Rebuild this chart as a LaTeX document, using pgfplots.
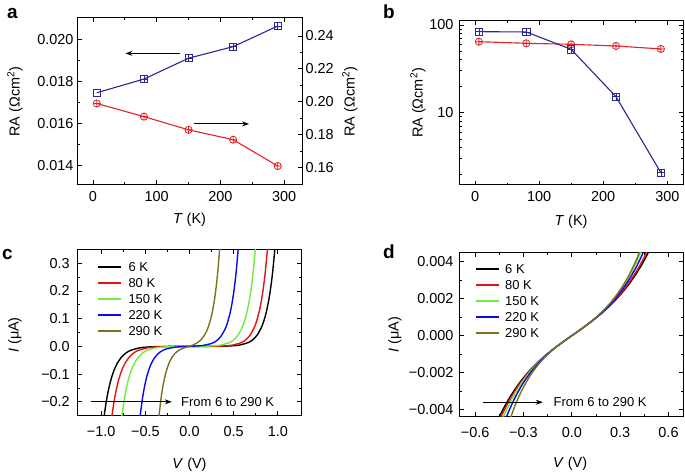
\documentclass[border=0pt]{standalone}
\usepackage{fontspec}
\setmainfont{Liberation Sans}
\usepackage{pgfplots}
\pgfplotsset{compat=1.18}
\usetikzlibrary{arrows.meta}

\definecolor{cblue}{RGB}{40,40,150}
\definecolor{cred}{RGB}{225,35,40}
\definecolor{lred}{RGB}{228,20,20}
\definecolor{lgreen}{RGB}{115,235,60}
\definecolor{lblue}{RGB}{10,10,235}
\definecolor{lolive}{RGB}{125,115,30}

\newcommand{\tickfont}{\fontsize{14.5}{16}\selectfont}
\newcommand{\legfont}{\fontsize{13}{15}\selectfont}

\pgfplotsset{
  common/.style={
    scale only axis,
    /pgf/number format/assume math mode=true,
    tick label style={font=\tickfont},
    axis line style={line width=1bp},
    major tick length=4.5bp,
    minor tick length=2.5bp,
    tick style={black, line width=0.8bp},
    tick align=inside,
  },
  curve/.style={line width=1.4bp, smooth, forget plot},
  ivlegend/.style={
    legend style={draw=none, fill=none, font=\legfont, at={#1}, anchor=north west,
      inner sep=0pt, row sep=7bp, column sep=7bp, nodes={inner sep=0pt, text height=9bp, text depth=0bp}},
    legend cell align=left,
    legend image code/.code={\draw[##1] (0bp,0bp) -- (23bp,0bp);},
  },
}

\begin{document}
\begin{tikzpicture}
\path[use as bounding box] (0bp,0bp) rectangle (685bp,473bp);

% ---------------- panel a ----------------
\begin{axis}[common, at={(77bp,288bp)}, anchor=south west, width=225bp, height=167bp,
  xmin=-25, xmax=328, ymin=0.01308, ymax=0.02101,
  xtick={0,100,200,300}, minor x tick num=1,
  ytick={0.014,0.016,0.018,0.020}, minor y tick num=1, ytick pos=left,
  scaled y ticks=false,
  yticklabel style={/pgf/number format/fixed, /pgf/number format/fixed zerofill, /pgf/number format/precision=3},
  xticklabel style={yshift=-2.5bp},
  every axis x label/.style={at={(axis description cs:0.5,-0.21)}, anchor=center, font=\tickfont},
  every axis y label/.style={at={(axis description cs:-0.276,0.5)}, rotate=90, anchor=center, font=\tickfont},
  xlabel={\textit{T} (K)}, ylabel={RA (Ωcm\textsuperscript{2})}]
\addplot[cblue, line width=1.1bp, mark=square, mark size=3.6bp, mark options={solid, line width=0.8bp}]
  coordinates {(6,0.01746) (80,0.01811) (150,0.01910) (220,0.01965) (290,0.02063)};
\addplot[cblue, only marks, mark=+, mark size=3.6bp, mark options={line width=0.6bp}]
  coordinates {(80,0.01811) (150,0.01910) (220,0.01965) (290,0.02063)};
\draw[-{Stealth[length=7bp,width=5bp]}, line width=1bp] (axis cs:137,0.01933) -- (axis cs:51,0.01933);
\draw[-{Stealth[length=7bp,width=5bp]}, line width=1bp] (axis cs:158,0.01598) -- (axis cs:245,0.01598);
\end{axis}
\begin{axis}[common, at={(77bp,288bp)}, anchor=south west, width=225bp, height=167bp,
  xmin=-25, xmax=328, ymin=0.1495, ymax=0.2509,
  hide x axis, axis y line*=right,
  ytick={0.16,0.18,0.20,0.22,0.24}, minor y tick num=1,
  yticklabel style={/pgf/number format/fixed, /pgf/number format/fixed zerofill, /pgf/number format/precision=2},
  every axis y label/.style={at={(axis description cs:1.213,0.5)}, rotate=90, anchor=center, font=\tickfont},
  ylabel={RA (Ωcm\textsuperscript{2})}]
\addplot[cred, line width=1.1bp, mark=oplus, mark size=3.6bp, mark options={solid, line width=0.8bp}]
  coordinates {(6,0.199) (80,0.191) (150,0.183) (220,0.177) (290,0.161)};
\end{axis}

% ---------------- panel b ----------------
\begin{axis}[common, at={(459bp,288bp)}, anchor=south west, width=224bp, height=164bp,
  ymode=log,
  xmin=-25, xmax=324.5, ymin=1.5, ymax=111,
  xtick={0,100,200,300}, minor x tick num=1,
  ytick={10,100}, yticklabels={10,100},
  minor ytick={2,3,4,5,6,7,8,9,20,30,40,50,60,70,80,90},
  xticklabel style={yshift=-2.5bp}, yticklabel style={xshift=-2bp},
  every axis x label/.style={at={(axis description cs:0.5,-0.224)}, anchor=center, font=\tickfont},
  every axis y label/.style={at={(axis description cs:-0.183,0.5)}, rotate=90, anchor=center, font=\tickfont},
  xlabel={\textit{T} (K)}, ylabel={RA (Ωcm\textsuperscript{2})}]
\addplot[cred, line width=1.1bp, mark=oplus, mark size=3.6bp, mark options={solid, line width=0.8bp}]
  coordinates {(6,64.5) (80,61.8) (150,60.2) (220,57.6) (290,53.3)};
\addplot[cblue, line width=1.1bp, mark=square, mark size=3.6bp, mark options={solid, line width=0.8bp}]
  coordinates {(6,83.9) (80,83.2) (150,52.8) (220,15.2) (290,2.07)};
\addplot[cblue, only marks, mark=+, mark size=3.6bp, mark options={line width=0.6bp}]
  coordinates {(6,83.9) (80,83.2) (150,52.8) (220,15.2) (290,2.07)};
\end{axis}

% ---------------- panel c ----------------
\begin{axis}[common, at={(77.3bp,57.3bp)}, anchor=south west, width=224.4bp, height=166.4bp,
  xmin=-1.27, xmax=1.27, ymin=-0.25, ymax=0.35,
  xtick={-1,-0.5,0,0.5,1}, xticklabels={−1.0,−0.5,0.0,0.5,1.0}, minor x tick num=1,
  ytick={-0.2,-0.1,0,0.1,0.2,0.3}, yticklabels={−0.2,−0.1,0.0,0.1,0.2,0.3}, minor y tick num=1,
  xticklabel style={yshift=-7bp}, yticklabel style={xshift=-4bp},
  every axis x label/.style={at={(axis description cs:0.5,-0.292)}, anchor=center, font=\tickfont},
  every axis y label/.style={at={(axis description cs:-0.278,0.485)}, rotate=90, anchor=center, font=\tickfont},
  xlabel={\textit{V} (V)}, ylabel={\textit{I} (μA)},
  ivlegend={(axis description cs:0.0865,0.922)}]
\addplot[curve, black] coordinates {(-0.976,-0.275) (-0.966,-0.25) (-0.941,-0.197) (-0.916,-0.1553) (-0.891,-0.1224) (-0.866,-0.0965) (-0.841,-0.076) (-0.816,-0.0599) (-0.766,-0.0372) (-0.716,-0.0231) (-0.666,-0.01435) (-0.566,-0.00554) (-0.466,-0.00214) (-0.316,-0.00051) (0,0) (0.316,0.00032) (0.466,0.00162) (0.566,0.00475) (0.666,0.0139) (0.716,0.0238) (0.766,0.0407) (0.816,0.0698) (0.841,0.0913) (0.866,0.1194) (0.891,0.1562) (0.916,0.2044) (0.941,0.2675) (0.966,0.35) (0.976,0.390)};
\addplot[curve, lred] coordinates {(-0.888,-0.275) (-0.878,-0.25) (-0.853,-0.197) (-0.828,-0.1553) (-0.803,-0.1224) (-0.778,-0.0965) (-0.753,-0.076) (-0.728,-0.0599) (-0.678,-0.0372) (-0.628,-0.0231) (-0.578,-0.01435) (-0.478,-0.00554) (-0.378,-0.00214) (-0.228,-0.00051) (0,0) (0.232,0.00028) (0.382,0.00144) (0.482,0.00432) (0.582,0.01295) (0.632,0.0224) (0.682,0.0389) (0.732,0.0673) (0.757,0.0886) (0.782,0.1166) (0.807,0.1535) (0.832,0.2021) (0.857,0.2659) (0.882,0.35) (0.892,0.3906)};
\addplot[curve, lgreen] coordinates {(-0.775,-0.2763) (-0.765,-0.25) (-0.74,-0.1947) (-0.715,-0.1516) (-0.69,-0.1181) (-0.665,-0.092) (-0.64,-0.0716) (-0.615,-0.0558) (-0.565,-0.0338) (-0.515,-0.0205) (-0.465,-0.0124) (-0.365,-0.00458) (-0.265,-0.00168) (-0.115,-0.00038) (0,0) (0.095,0.00028) (0.245,0.00144) (0.345,0.00432) (0.445,0.01295) (0.495,0.0224) (0.545,0.0389) (0.595,0.0673) (0.62,0.0886) (0.645,0.1166) (0.67,0.1535) (0.695,0.2021) (0.72,0.2659) (0.745,0.35) (0.755,0.3906)};
\addplot[curve, lblue] coordinates {(-0.568,-0.2794) (-0.558,-0.25) (-0.533,-0.1894) (-0.508,-0.1434) (-0.483,-0.1087) (-0.458,-0.0823) (-0.433,-0.0623) (-0.408,-0.0472) (-0.358,-0.0271) (-0.308,-0.0156) (-0.258,-0.0089) (-0.158,-0.00285) (-0.058,-0.0007) (0,0) (0.051,0.000725) (0.151,0.00324) (0.251,0.0107) (0.301,0.0191) (0.351,0.0342) (0.401,0.0612) (0.426,0.0818) (0.451,0.1094) (0.476,0.1463) (0.501,0.1957) (0.526,0.2617) (0.551,0.35) (0.561,0.3931)};
\addplot[curve, lolive] coordinates {(-0.355,-0.2834) (-0.345,-0.25) (-0.32,-0.1829) (-0.3,-0.1424) (-0.28,-0.1108) (-0.26,-0.0863) (-0.24,-0.0671) (-0.22,-0.0522) (-0.2,-0.0405) (-0.18,-0.0314) (-0.16,-0.0243) (-0.14,-0.0187) (-0.12,-0.0143) (-0.1,-0.0107) (-0.08,-0.0079) (-0.06,-0.0055) (-0.04,-0.0035) (-0.02,-0.0017) (0,0) (0.02,0.0025) (0.04,0.0051) (0.06,0.0081) (0.08,0.0116) (0.1,0.0158) (0.12,0.021) (0.14,0.0275) (0.16,0.0358) (0.18,0.0463) (0.2,0.0597) (0.22,0.0768) (0.24,0.0988) (0.26,0.127) (0.28,0.1631) (0.3,0.2096) (0.32,0.2691) (0.341,0.35) (0.35,0.3916)};
\addlegendimage{black, line width=1.6bp}\addlegendentry{6 K}
\addlegendimage{lred, line width=1.6bp}\addlegendentry{80 K}
\addlegendimage{lgreen, line width=1.6bp}\addlegendentry{150 K}
\addlegendimage{lblue, line width=1.6bp}\addlegendentry{220 K}
\addlegendimage{lolive, line width=1.6bp}\addlegendentry{290 K}
\draw[-{Stealth[length=7bp,width=5bp]}, line width=1bp] (axis cs:-1.119,-0.2) -- (axis cs:-0.20,-0.2);
\node[anchor=west, font=\legfont, inner sep=0pt] at (axis cs:-0.096,-0.2) {From 6 to 290 K};
\end{axis}

% ---------------- panel d ----------------
\begin{axis}[common, at={(459bp,56bp)}, anchor=south west, width=224bp, height=164.5bp,
  xmin=-0.7, xmax=0.69, ymin=-0.0044, ymax=0.0045,
  scaled y ticks=false, scaled x ticks=false,
  xtick={-0.6,-0.3,0,0.3,0.6}, xticklabels={−0.6,−0.3,0.0,0.3,0.6}, minor x tick num=1,
  ytick={-0.004,-0.002,0,0.002,0.004}, yticklabels={−0.004,−0.002,0.000,0.002,0.004}, minor y tick num=1,
  xticklabel style={yshift=-7bp}, yticklabel style={xshift=-2bp},
  every axis x label/.style={at={(axis description cs:0.496,-0.286)}, anchor=center, font=\tickfont},
  every axis y label/.style={at={(axis description cs:-0.286,0.5)}, rotate=90, anchor=center, font=\tickfont},
  xlabel={\textit{V} (V)}, ylabel={\textit{I} (μA)}]
\addplot[curve, black] coordinates {(-0.5,-0.005395) (-0.45,-0.004394) (-0.4,-0.003561) (-0.35,-0.002865) (-0.3,-0.002279) (-0.25,-0.001779) (-0.2,-0.001348) (-0.15,-0.000968) (-0.1,-0.000626) (-0.05,-0.000307) (0,0) (0.05,0.000307) (0.1,0.000623) (0.15,0.000959) (0.2,0.001326) (0.25,0.001737) (0.3,0.002201) (0.35,0.002736) (0.4,0.003359) (0.45,0.004089) (0.5,0.00495)};
\addplot[curve, lred] coordinates {(-0.5,-0.005706) (-0.45,-0.004607) (-0.4,-0.003701) (-0.35,-0.002954) (-0.3,-0.002332) (-0.25,-0.001809) (-0.2,-0.001363) (-0.15,-0.000974) (-0.1,-0.000627) (-0.05,-0.000307) (0,0) (0.05,0.000307) (0.1,0.000624) (0.15,0.000964) (0.2,0.001338) (0.25,0.001759) (0.3,0.002243) (0.35,0.002807) (0.4,0.003469) (0.45,0.004255) (0.5,0.005192)};
\addplot[curve, lgreen] coordinates {(-0.45,-0.004931) (-0.4,-0.003914) (-0.35,-0.003087) (-0.3,-0.002411) (-0.25,-0.001852) (-0.2,-0.001384) (-0.15,-0.000983) (-0.1,-0.00063) (-0.05,-0.000308) (0,0) (0.05,0.000308) (0.1,0.00063) (0.15,0.000985) (0.2,0.001388) (0.25,0.00186) (0.3,0.002425) (0.35,0.003111) (0.4,0.003952) (0.45,0.00499)};
\addplot[curve, lblue] coordinates {(-0.45,-0.005486) (-0.4,-0.004273) (-0.35,-0.003311) (-0.3,-0.002543) (-0.25,-0.001925) (-0.2,-0.001419) (-0.15,-0.000997) (-0.1,-0.000634) (-0.05,-0.000308) (0,0) (0.05,0.000307) (0.1,0.000628) (0.15,0.000975) (0.2,0.001364) (0.25,0.001811) (0.3,0.002336) (0.35,0.002961) (0.4,0.003713) (0.45,0.004624)};
\addplot[curve, lolive] coordinates {(-0.4,-0.004954) (-0.35,-0.003727) (-0.3,-0.002785) (-0.25,-0.002055) (-0.2,-0.001482) (-0.15,-0.001023) (-0.1,-0.000641) (-0.05,-0.000309) (0,0) (0.05,0.000308) (0.1,0.000632) (0.15,0.00099) (0.2,0.001402) (0.25,0.001889) (0.3,0.002478) (0.35,0.0032) (0.4,0.004095) (0.45,0.005209)};
% legend (drawn by hand)
\draw[black, line width=2bp] (axis description cs:0.0759,0.8997) -- (axis description cs:0.1786,0.8997);
\draw[lred, line width=2bp] (axis description cs:0.0759,0.8024) -- (axis description cs:0.1786,0.8024);
\draw[lgreen, line width=2bp] (axis description cs:0.0759,0.7052) -- (axis description cs:0.1786,0.7052);
\draw[lblue, line width=2bp] (axis description cs:0.0759,0.6079) -- (axis description cs:0.1786,0.6079);
\draw[lolive, line width=2bp] (axis description cs:0.0759,0.5106) -- (axis description cs:0.1786,0.5106);
\node[anchor=west, font=\legfont, inner sep=0pt] at (axis description cs:0.2054,0.8997) {6 K};
\node[anchor=west, font=\legfont, inner sep=0pt] at (axis description cs:0.2054,0.8024) {80 K};
\node[anchor=west, font=\legfont, inner sep=0pt] at (axis description cs:0.2054,0.7052) {150 K};
\node[anchor=west, font=\legfont, inner sep=0pt] at (axis description cs:0.2054,0.6079) {220 K};
\node[anchor=west, font=\legfont, inner sep=0pt] at (axis description cs:0.2054,0.5106) {290 K};
\draw[-{Stealth[length=7bp,width=5bp]}, line width=1bp] (axis cs:-0.549,-0.0036) -- (axis cs:-0.18,-0.0036);
\node[anchor=west, font=\legfont, inner sep=0pt] at (axis cs:-0.114,-0.0036) {From 6 to 290 K};
\end{axis}

% panel letters
\node[anchor=base west, inner sep=0pt, font=\fontsize{19}{20}\bfseries] at (7bp,454.7bp) {a};
\node[anchor=base west, inner sep=0pt, font=\fontsize{19}{20}\bfseries] at (383bp,454.7bp) {b};
\node[anchor=base west, inner sep=0pt, font=\fontsize{19}{20}\bfseries] at (2bp,213bp) {c};
\node[anchor=base west, inner sep=0pt, font=\fontsize{19}{20}\bfseries] at (383bp,214.7bp) {d};
\end{tikzpicture}
\end{document}
